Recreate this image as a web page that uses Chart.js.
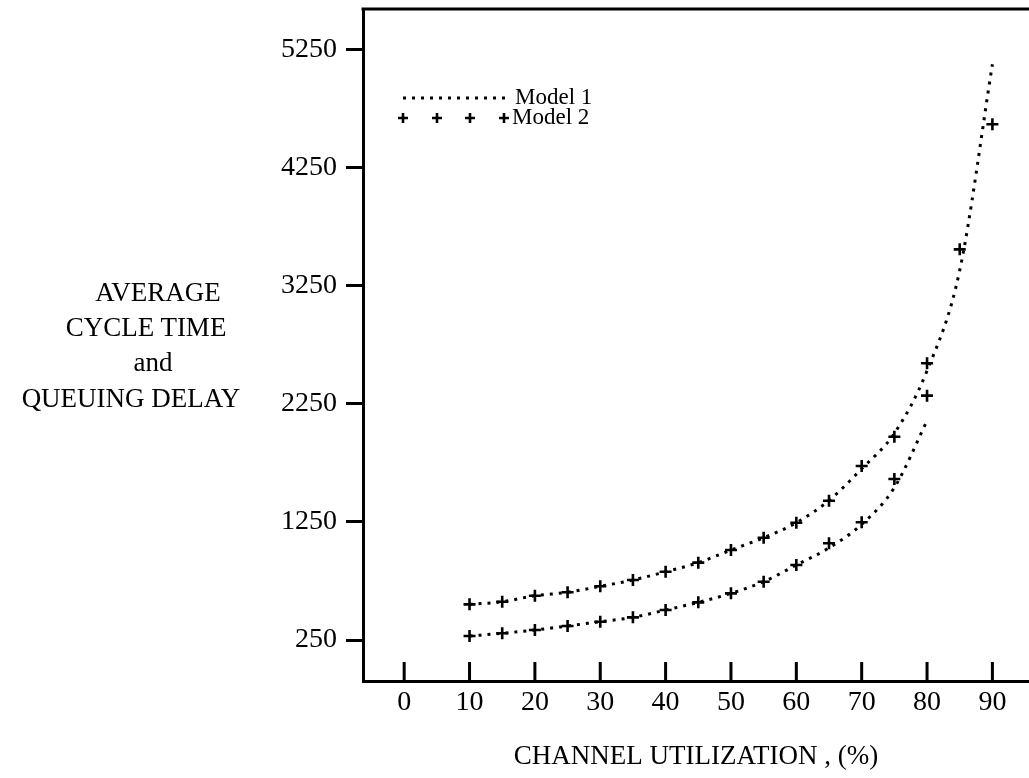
<!DOCTYPE html>
<html>
<head>
<meta charset="utf-8">
<script src="https://cdn.jsdelivr.net/npm/chart.js@4.4.1/dist/chart.umd.min.js"></script>
<style>
html, body { margin: 0; padding: 0; background: #fff; overflow: hidden; }
#wrap { position: relative; width: 1029px; height: 778px; }
.ytitle { position: absolute; width: 300px; text-align: center; font: 27px 'Liberation Serif', 'Times New Roman', serif; color: #000; line-height: 36px; white-space: nowrap; }
</style>
</head>
<body>
<div id="wrap">
  <canvas id="chart" width="1029" height="778"></canvas>
  <div class="ytitle" style="left:8px;top:274px">AVERAGE</div>
  <div class="ytitle" style="left:-4px;top:309px">CYCLE TIME</div>
  <div class="ytitle" style="left:3px;top:344px">and</div>
  <div class="ytitle" style="left:-19px;top:380px">QUEUING DELAY</div>
</div>
<script>
// 読み取り値 (x = channel utilization %)
const utilization = [10, 15, 20, 25, 30, 35, 40, 45, 50, 55, 60, 65, 70, 75, 80, 85, 90];
const utilizationQueue = [10, 15, 20, 25, 30, 35, 40, 45, 50, 55, 60, 65, 70, 75, 80];

// Model 1 (dotted curves)
const model1Cycle = [552, 574, 625, 654, 705, 758, 828, 905, 1012, 1116, 1243, 1432, 1700, 2000, 2530, 3380, 5125];
const model1Queue = [284, 307, 335, 369, 405, 442, 504, 569, 645, 744, 885, 1030, 1230, 1540, 2107];

// Model 2 (plus markers)
const model2Cycle = [552, 574, 625, 654, 705, 758, 828, 905, 1012, 1116, 1243, 1429, 1723, 1971, 2593, 3558, 4617];
const model2Queue = [284, 307, 335, 369, 405, 442, 504, 569, 645, 744, 885, 1069, 1247, 1613, 2319];

const xTicks = [0, 10, 20, 30, 40, 50, 60, 70, 80, 90];
const yTicks = [250, 1250, 2250, 3250, 4250, 5250];

const INK = '#000';
const SERIF = "'Liberation Serif', 'Times New Roman', serif";
const DOTS = [3, 6];

const toPoints = (xs, ys) => xs.map((x, i) => ({ x, y: ys[i] }));

function dottedSet(label, xs, ys) {
    return {
        label,
        data: toPoints(xs, ys),
        borderColor: INK,
        borderWidth: 3,
        borderDash: DOTS,
        borderCapStyle: 'butt',
        cubicInterpolationMode: 'monotone',
        pointRadius: 0,
        fill: false,
    };
}

function plusSet(label, xs, ys) {
    return {
        label,
        data: toPoints(xs, ys),
        showLine: false,
        pointStyle: 'cross',
        pointRadius: 6,
        pointBorderWidth: 2.6,
        pointBorderColor: INK,
        pointBackgroundColor: INK,
    };
}

// 上辺の枠線・内向きの目盛り・凡例
const framePlugin = {
    id: 'frame',
    afterDraw(chart) {
        const { ctx, chartArea: { left, top, right, bottom }, scales: { x } } = chart;
        ctx.save();
        ctx.strokeStyle = INK;
        ctx.lineWidth = 3;
        ctx.beginPath();
        ctx.moveTo(left - 1.5, top);
        ctx.lineTo(right, top);
        xTicks.forEach(v => {
            const px = x.getPixelForValue(v);
            ctx.moveTo(px, bottom);
            ctx.lineTo(px, bottom - 19);
        });
        ctx.stroke();

        // legend
        const lx = left + 40, ly1 = top + 89, ly2 = top + 109;
        ctx.setLineDash(DOTS);
        ctx.beginPath();
        ctx.moveTo(lx, ly1);
        ctx.lineTo(lx + 105, ly1);
        ctx.stroke();
        ctx.setLineDash([]);
        ctx.lineWidth = 2.6;
        [0, 34, 67, 101].forEach(dx => {
            const cx = lx + dx;
            ctx.beginPath();
            ctx.moveTo(cx - 5, ly2); ctx.lineTo(cx + 5, ly2);
            ctx.moveTo(cx, ly2 - 5); ctx.lineTo(cx, ly2 + 5);
            ctx.stroke();
        });
        ctx.fillStyle = INK;
        ctx.font = `23px ${SERIF}`;
        ctx.textBaseline = 'middle';
        ctx.fillText('Model 1', lx + 112, ly1);
        ctx.fillText('Model 2', lx + 109, ly2);
        ctx.restore();
    }
};

new Chart(document.getElementById('chart'), {
    type: 'line',
    data: {
        datasets: [
            dottedSet('Model 1', utilization, model1Cycle),
            dottedSet('Model 1 queuing', utilizationQueue, model1Queue),
            plusSet('Model 2', utilization, model2Cycle),
            plusSet('Model 2 queuing', utilizationQueue, model2Queue),
        ]
    },
    options: {
        responsive: false,
        animation: false,
        devicePixelRatio: 1,
        layout: { autoPadding: false, padding: { top: 9, right: 0, left: 0, bottom: 0 } },
        plugins: {
            legend: { display: false },
            tooltip: { enabled: false },
        },
        scales: {
            x: {
                type: 'linear',
                min: -6.3,
                max: 95.6,
                afterBuildTicks: s => { s.ticks = xTicks.map(value => ({ value })); },
                afterFit: s => { s.height = 97; s.paddingLeft = 0; s.paddingRight = 0; },
                ticks: {
                    color: INK,
                    font: { family: SERIF, size: 28 },
                    padding: 5,
                    maxRotation: 0,
                    autoSkip: false,
                    callback: v => String(v),
                },
                grid: { display: false, drawTicks: false },
                border: { display: true, width: 3, color: INK },
                title: {
                    display: true,
                    text: 'CHANNEL UTILIZATION , (%)',
                    color: INK,
                    font: { family: SERIF, size: 27 },
                    padding: { top: 0, bottom: 5 },
                },
            },
            y: {
                type: 'linear',
                min: -97,
                max: 5593,
                afterBuildTicks: s => { s.ticks = yTicks.map(value => ({ value })); },
                afterFit: s => { s.width = 363; s.paddingTop = 0; s.paddingBottom = 0; },
                ticks: {
                    color: INK,
                    font: { family: SERIF, size: 28 },
                    padding: 9,
                    callback: v => String(v),
                },
                grid: {
                    drawOnChartArea: false,
                    drawTicks: true,
                    tickLength: 17,
                    lineWidth: 3,
                    color: INK,
                },
                border: { display: true, width: 3, color: INK },
            },
        },
    },
    plugins: [framePlugin],
});
</script>
</body>
</html>
